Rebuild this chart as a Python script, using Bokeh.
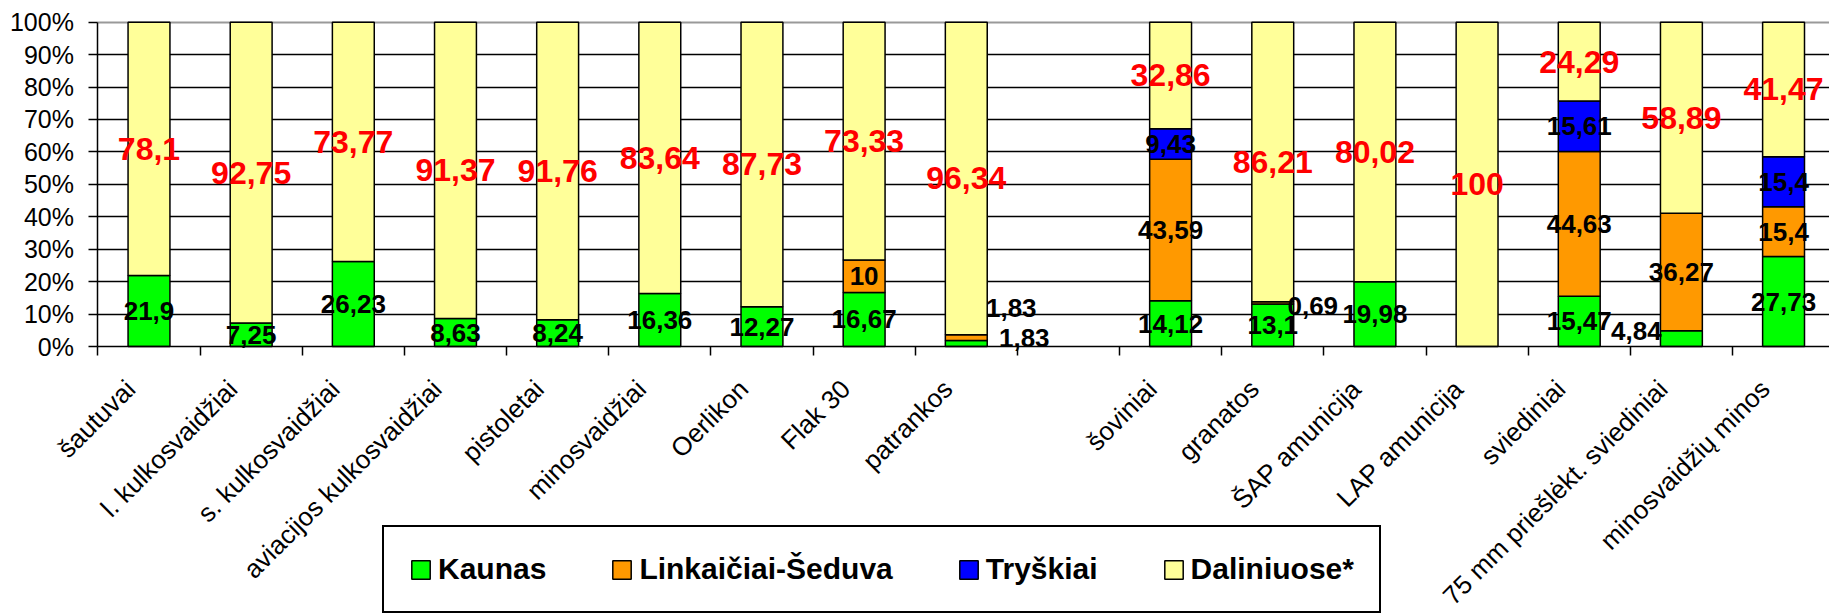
import math
from bokeh.plotting import figure
from bokeh.models import (FixedTicker, Legend, LegendItem, ColumnDataSource,
                          Range1d, Grid)
from bokeh.embed import file_html
from bokeh.resources import INLINE
from bokeh.core.properties import value

# ---------------- data ----------------
categories = ["šautuvai", "l. kulkosvaidžiai", "s. kulkosvaidžiai",
              "aviacijos kulkosvaidžiai", "pistoletai", "minosvaidžiai",
              "Oerlikon", "Flak 30", "patrankos", "",
              "šoviniai", "granatos", "ŠAP amunicija", "LAP amunicija",
              "sviediniai", "75 mm priešlėkt. sviediniai", "minosvaidžių minos"]

series_names = ["Kaunas", "Linkaičiai-Šeduva", "Tryškiai", "Daliniuose*"]

kaunas = [21.9, 7.25, 26.23, 8.63, 8.24, 16.36, 12.27, 16.67, 1.83, 0,
          14.12, 13.1, 19.98, 0, 15.47, 4.84, 27.73]
linkaiciai = [0, 0, 0, 0, 0, 0, 0, 10, 1.83, 0,
              43.59, 0.69, 0, 0, 44.63, 36.27, 15.4]
tryskiai = [0, 0, 0, 0, 0, 0, 0, 0, 0, 0,
            9.43, 0, 0, 0, 15.61, 0, 15.4]
daliniuose = [78.1, 92.75, 73.77, 91.37, 91.76, 83.64, 87.73, 73.33, 96.34, 0,
              32.86, 86.21, 80.02, 100, 24.29, 58.89, 41.47]

y_ticks = [0, 10, 20, 30, 40, 50, 60, 70, 80, 90, 100]

# ---------------- styles / layout ----------------
colors = ["#00FF00", "#FF9900", "#0000FF", "#FFFF99"]
FONT = "Liberation Sans"
# manual pixel nudges for data labels that were dragged aside: (category, series) -> (dx, dy)
label_nudges = {(8, 0): (58, -6), (8, 1): (45, -30), (11, 1): (40, 3), (15, 0): (-45, -8)}
LABEL_SHIFT = 0.18     # category labels sit slightly left of the category centre

W, H = 1829, 615
PX_X = 102.16          # pixels per category
X0_PX = 148.5          # pixel position of the first category centre
PX_Y = 3.243           # pixels per percent
Y0_PX = 346.0          # pixel position of 0 %
x_lo = -X0_PX / PX_X
x_hi = (W - X0_PX) / PX_X
y_hi = Y0_PX / PX_Y
y_lo = -(H - Y0_PX) / PX_Y
n_cat = len(categories)

series = [kaunas, linkaiciai, tryskiai, daliniuose]
xs = list(range(n_cat))

p = figure(width=W, height=H, output_backend="svg", toolbar_location=None,
           x_range=Range1d(x_lo, x_hi), y_range=Range1d(y_lo, y_hi),
           min_border_left=0, min_border_right=0, min_border_top=0,
           min_border_bottom=0)
p.outline_line_color = None
p.background_fill_color = "white"
p.border_fill_color = "white"

# ---------------- stacked bars (zero segments skipped) ----------------
renderers = []
cum = [0.0] * n_cat
for si, ser in enumerate(series):
    d = dict(x=[], bottom=[], top=[])
    for i in xs:
        if ser[i] > 0:
            d["x"].append(i)
            d["bottom"].append(cum[i])
            d["top"].append(cum[i] + ser[i])
        cum[i] += ser[i]
    r = p.vbar(x="x", bottom="bottom", top="top", width=0.41,
               source=ColumnDataSource(d), fill_color=colors[si],
               line_color="black", line_width=1.5)
    renderers.append(r)

# ---------------- grid ----------------
p.xgrid.visible = False
p.ygrid.ticker = FixedTicker(ticks=y_ticks[1:-1])
p.ygrid.grid_line_color = "black"
p.ygrid.grid_line_width = 1.4
p.ygrid.cross_bounds = (-0.5, n_cat - 0.5)
p.add_layout(Grid(dimension=1, ticker=FixedTicker(ticks=[100]),
                  cross_bounds=(-0.5, n_cat - 0.5),
                  grid_line_color="#999999", grid_line_width=2))

# ---------------- axes ----------------
yax = p.yaxis[0]
yax.fixed_location = -0.5
yax.bounds = (0, 100)
yax.ticker = FixedTicker(ticks=y_ticks)
yax.major_label_overrides = {t: f"{t}%" for t in y_ticks}
yax.major_label_text_font = FONT
yax.major_label_text_font_size = "25px"
yax.major_label_text_color = "black"
yax.major_tick_out = 9
yax.major_tick_in = 0
yax.minor_tick_line_color = None
yax.major_label_standoff = 15
yax.axis_line_width = 1.5
yax.major_tick_line_width = 1.5

xax = p.xaxis[0]
xax.fixed_location = 0
xax.bounds = (-0.5, n_cat - 0.5)
label_pos = {round(i - LABEL_SHIFT, 2): c for i, c in enumerate(categories) if c}
xax.ticker = FixedTicker(ticks=list(label_pos.keys()),
                         minor_ticks=[i - 0.5 for i in range(n_cat + 1)])
xax.major_label_overrides = label_pos
xax.major_label_orientation = math.pi / 4
xax.major_label_text_font = FONT
xax.major_label_text_font_size = "26px"
xax.major_label_text_color = "black"
xax.major_tick_line_color = None
xax.minor_tick_line_color = "black"
xax.minor_tick_line_width = 1.5
xax.minor_tick_out = 9
xax.minor_tick_in = 0
xax.major_label_standoff = 29
xax.axis_line_width = 1.5

# ---------------- data labels ----------------
def fmt(v):
    return ("%g" % v).replace(".", ",")

lab = {"black": dict(x=[], y=[], t=[], dx=[], dy=[]),
       "red": dict(x=[], y=[], t=[], dx=[], dy=[])}
for i in xs:
    base = 0.0
    for si, ser in enumerate(series):
        v = ser[i]
        if v > 0:
            key = "red" if si == 3 else "black"
            dx, dy = label_nudges.get((i, si), (0, 0))
            lab[key]["x"].append(i)
            lab[key]["y"].append(base + v / 2)
            lab[key]["t"].append(fmt(v))
            lab[key]["dx"].append(dx)
            lab[key]["dy"].append(dy)
        base += v

p.text(x="x", y="y", text="t", x_offset="dx", y_offset="dy",
       source=ColumnDataSource(lab["black"]), text_align="center",
       text_baseline="middle", text_font=value(FONT), text_font_style="bold",
       text_font_size="26px", text_color="black")
p.text(x="x", y="y", text="t", x_offset="dx", y_offset="dy",
       source=ColumnDataSource(lab["red"]), text_align="center",
       text_baseline="middle", text_font=value(FONT), text_font_style="bold",
       text_font_size="32px", text_color="#FF0000")

# ---------------- legend ----------------
legend = Legend(items=[LegendItem(label=n, renderers=[r]) for n, r in zip(series_names, renderers)],
                orientation="horizontal", location=(382, 2),
                label_text_font=FONT, label_text_font_size="30px",
                label_text_font_style="bold", label_text_color="black",
                glyph_width=23, glyph_height=23, label_standoff=6,
                spacing=64, padding=25, margin=0,
                border_line_color="black", border_line_width=2,
                border_line_alpha=1.0,
                background_fill_color="white", background_fill_alpha=1.0)
p.add_layout(legend)

open("out.html", "w").write(file_html(p, INLINE))
